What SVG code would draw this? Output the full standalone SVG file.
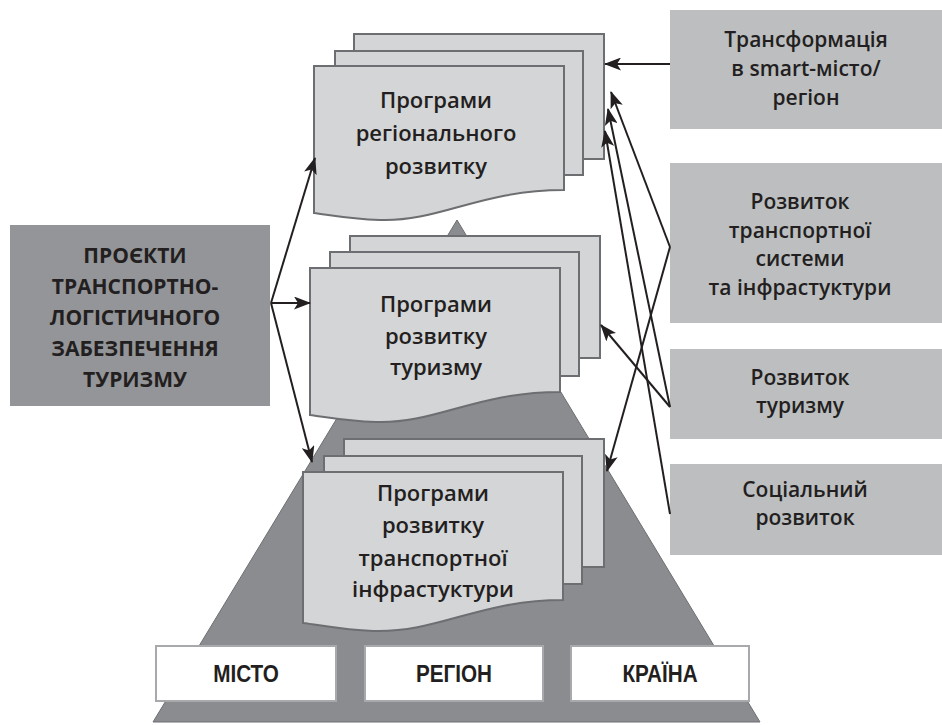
<svg xmlns="http://www.w3.org/2000/svg" width="942" height="725" viewBox="0 0 942 725">
<defs>
<style>
.sheet{fill:#d4d5d7;stroke:#6d6e71;stroke-width:2}
.t{font-family:"Open Sans","Noto Sans",sans-serif;font-weight:600;font-size:22px;fill:#231f20;text-anchor:middle}
.tr{font-family:"Open Sans","Noto Sans",sans-serif;font-weight:600;font-size:21px;fill:#231f20;text-anchor:middle}
.tb{font-family:"Open Sans","Noto Sans",sans-serif;font-weight:700;font-size:21px;fill:#231f20;text-anchor:middle}
.tc{font-family:"Liberation Sans",Arial,sans-serif;font-weight:700;font-size:23px;fill:#231f20;text-anchor:middle}
.rbox{fill:#bcbec0}
.bbox{fill:#ffffff;stroke:#a7a9ac;stroke-width:2}
.conn{fill:none;stroke:#231f20;stroke-width:2;marker-end:url(#ah)}
</style>
<marker id="ah" markerUnits="userSpaceOnUse" markerWidth="17" markerHeight="13" viewBox="0 0 17 13" refX="16" refY="6.5" orient="auto">
<path d="M0,0 L17,6.5 L0,13 L4,6.5 Z" fill="#231f20"/>
</marker>
</defs>
<rect width="942" height="725" fill="#ffffff"/>
<g id="pyramid">
<polygon points="457,220 760,722 153,722" fill="#8a8c8f" stroke="#6d6e71" stroke-width="1"/>
</g>
<g id="doc-regional">
<rect class="sheet" x="354" y="34" width="250" height="125"/>
<rect class="sheet" x="335" y="51" width="248" height="124"/>
<path class="sheet" d="M314,66 H564 V190 C480,190 440,222 380,220 C350,219 330,215 314,213 Z"/>
<text class="t" x="436" y="108">Програми</text>
<text class="t" x="436" y="141">регіонального</text>
<text class="t" x="436" y="174">розвитку</text>
</g>
<g id="doc-tourism">
<rect class="sheet" x="350" y="236" width="250" height="122"/>
<rect class="sheet" x="330" y="252" width="249" height="124"/>
<path class="sheet" d="M310,268 H560 V392 C476,392 436,424 376,422 C346,421 326,417 310,415 Z"/>
<text class="t" x="436" y="312">Програми</text>
<text class="t" x="436" y="344">розвитку</text>
<text class="t" x="436" y="375">туризму</text>
</g>
<g id="doc-transport">
<rect class="sheet" x="344" y="439" width="260" height="128"/>
<rect class="sheet" x="324" y="456" width="258" height="128"/>
<path class="sheet" d="M303,472 H563 V600 C479,600 439,633 373,631 C343,630 320,625 303,623 Z"/>
<text class="t" x="433" y="501">Програми</text>
<text class="t" x="433" y="533">розвитку</text>
<text class="t" x="433" y="566">транспортної</text>
<text class="t" x="433" y="597">інфрастуктури</text>
</g>
<g id="projects">
<rect x="10" y="225" width="260" height="181" fill="#939598"/>
<text class="tb" x="135" y="263">ПРОЄКТИ</text>
<text class="tb" x="135" y="294">ТРАНСПОРТНО-</text>
<text class="tb" x="135" y="325">ЛОГІСТИЧНОГО</text>
<text class="tb" x="135" y="356">ЗАБЕЗПЕЧЕННЯ</text>
<text class="tb" x="135" y="387">ТУРИЗМУ</text>
</g>
<g id="smart">
<rect class="rbox" x="670" y="10" width="272" height="119"/>
<text class="tr" x="806" y="47">Трансформація</text>
<text class="tr" x="806" y="76">в smart-місто/</text>
<text class="tr" x="806" y="105">регіон</text>
</g>
<g id="transport-system">
<rect class="rbox" x="670" y="163" width="272" height="160"/>
<text class="tr" x="800" y="209">Розвиток</text>
<text class="tr" x="800" y="237.5">транспортної</text>
<text class="tr" x="800" y="266">системи</text>
<text class="tr" x="800" y="294.5">та інфрастуктури</text>
</g>
<g id="tourism">
<rect class="rbox" x="670" y="349" width="272" height="90"/>
<text class="tr" x="800" y="385">Розвиток</text>
<text class="tr" x="800" y="413">туризму</text>
</g>
<g id="social">
<rect class="rbox" x="670" y="464" width="272" height="91"/>
<text class="tr" x="805" y="497">Соціальний</text>
<text class="tr" x="805" y="525">розвиток</text>
</g>
<g id="misto">
<rect class="bbox" x="156" y="646" width="180" height="55"/>
<text class="tc" transform="translate(246,682) scale(0.9,1)">МІСТО</text>
</g>
<g id="region">
<rect class="bbox" x="365" y="646" width="178" height="55"/>
<text class="tc" transform="translate(454,682) scale(0.9,1)">РЕГІОН</text>
</g>
<g id="country">
<rect class="bbox" x="571" y="646" width="178" height="55"/>
<text class="tc" transform="translate(660,682) scale(0.9,1)">КРАЇНА</text>
</g>
<g id="connectors">
<line class="conn" x1="271" y1="303" x2="315" y2="158"/>
<line class="conn" x1="271" y1="303" x2="310" y2="303"/>
<line class="conn" x1="271" y1="303" x2="312" y2="462"/>
<line class="conn" x1="670" y1="64" x2="605" y2="64"/>
<line class="conn" x1="670" y1="247" x2="611" y2="92"/>
<line class="conn" x1="670" y1="247" x2="607" y2="471"/>
<line class="conn" x1="670" y1="407" x2="608" y2="109"/>
<line class="conn" x1="670" y1="407" x2="601" y2="325"/>
<line class="conn" x1="670" y1="514" x2="605" y2="131"/>
</g>
</svg>
